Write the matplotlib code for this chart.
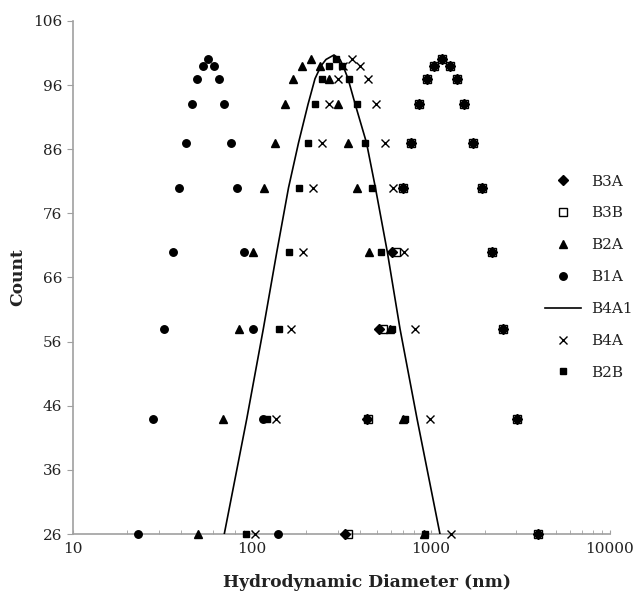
import numpy as np
import matplotlib
matplotlib.use('Agg')
import matplotlib.pyplot as plt

plt.rcParams['font.family'] = ['DejaVu Serif']

# count levels shared by the scatter series (rising then falling)
cnt = [26, 44, 58, 70, 80, 87, 93, 97, 99, 100, 99, 97, 93, 87, 80, 70, 58, 44, 26]

# hydrodynamic diameter (nm) for each series, same order as cnt
b3a = [330.3, 436.6, 513.6, 602.6, 699.4, 772.2, 859.6, 952.6, 1042.6, 1155.6,
       1275.6, 1401.7, 1533.5, 1708, 1918, 2182, 2533, 3033, 3974]
b3b = [344.5, 444, 538.6, 632.6, 699.4, 772.2, 859.6, 952.6, 1042.6, 1155.6,
       1275.6, 1401.7, 1533.5, 1708, 1918, 2182, 2533, 3033, 3974]
b2a = [49.6, 68.4, 84.7, 101.4, 116.9, 134.1, 152.5, 170.1, 190.6, 213.2,
       239.4, 269.8, 302.9, 341.0, 386.4, 451.6, 589.3, 696.8, 913]
b1a = [23.1, 28.0, 32.3, 36.0, 39.1, 42.7, 45.9, 49.3, 52.9, 56.9,
       60.9, 65.5, 69.8, 75.8, 82.6, 90.0, 100.6, 115.4, 140.0]
b4a = [103.7, 135.9, 164.8, 191.6, 217.9, 244.1, 269.8, 301.7, 322, 360,
       400.5, 444, 492, 550.4, 615, 705.7, 812.8, 986, 1292]
b2b = [92.3, 120.5, 141.7, 161.2, 183.4, 203.8, 223.6, 244.7, 268.8, 293.0,
       316.5, 349.1, 384.0, 427.3, 469.3, 525, 602.6, 715, 925]

# fitted curve B4A1
b4a1_x = [69.8, 93.3, 115.4, 137.3, 159.6, 181.5, 205.1, 224.4, 242.5, 258.6, 286.6,
          309.7, 322, 343.3, 376.6, 435.5, 488.3, 569.1, 670.2, 834.1, 1121]
b4a1_y = [26, 44, 58, 70, 80, 87, 93, 97, 99, 100, 100.7,
          100, 99, 97, 93, 87, 80, 70, 58, 44, 26]

y_ticks = [26, 36, 46, 56, 66, 76, 86, 96, 106]

fig = plt.figure(figsize=(6.38, 5.96), dpi=100)
ax = fig.add_axes([0.1149, 0.104, 0.8412, 0.8608])

k = 'black'
ax.plot(b3a, cnt, 'D', ms=4.6, color=k, ls='none', label='B3A', clip_on=False, zorder=3)
ax.plot(b3b, cnt, 's', ms=5.2, mfc='none', mec=k, mew=1.0, ls='none', label='B3B',
        clip_on=False, zorder=4)
ax.plot(b2a, cnt, '^', ms=5.8, color=k, ls='none', label='B2A', clip_on=False, zorder=5)
ax.plot(b1a, cnt, 'o', ms=5.4, color=k, ls='none', label='B1A', clip_on=False, zorder=6)
ax.plot(b4a1_x, b4a1_y, '-', color=k, lw=1.2, label='B4A1', zorder=7)
ax.plot(b4a, cnt, 'x', ms=6.0, mew=1.0, color=k, ls='none', label='B4A', clip_on=False,
        zorder=8)
ax.plot(b2b, cnt, 's', ms=5.0, color=k, ls='none', label='B2B', clip_on=False, zorder=9)

ax.set_xscale('log')
ax.set_xlim(10, 10000)
ax.set_ylim(26, 106)
ax.set_yticks(y_ticks)
ax.set_xticks([10, 100, 1000, 10000])
ax.set_xticklabels(['10', '100', '1000', '10000'])
ax.xaxis.set_minor_locator(matplotlib.ticker.LogLocator(base=10, subs=np.arange(2, 10)))
ax.xaxis.set_minor_formatter(matplotlib.ticker.NullFormatter())

gray = '#a0a0a0'
for s in ['top', 'right']:
    ax.spines[s].set_visible(False)
for s in ['left', 'bottom']:
    ax.spines[s].set_color(gray)
    ax.spines[s].set_linewidth(1.2)
ax.tick_params(axis='y', direction='out', length=4, color=gray, labelsize=11,
               labelcolor='#222222', pad=4)
ax.tick_params(axis='x', which='both', direction='in', length=3, color=gray,
               labelsize=11, labelcolor='#222222', pad=6)

fig.text(0.5745, 0.022, 'Hydrodynamic Diameter (nm)', ha='center', va='center',
         fontsize=12.3, fontweight='bold', color='#222222')
fig.text(0.028, 0.535, 'Count', ha='center', va='center', rotation=90,
         fontsize=12.3, fontweight='bold', color='#222222')

leg = fig.legend(loc='center left', bbox_to_anchor=(0.855, 0.535), frameon=False,
                 fontsize=11, labelspacing=1.17, handlelength=2.3, handletextpad=0.7,
                 borderpad=0, borderaxespad=0)
for t in leg.get_texts():
    t.set_color('#222222')

fig.savefig('out.png', dpi=100)
